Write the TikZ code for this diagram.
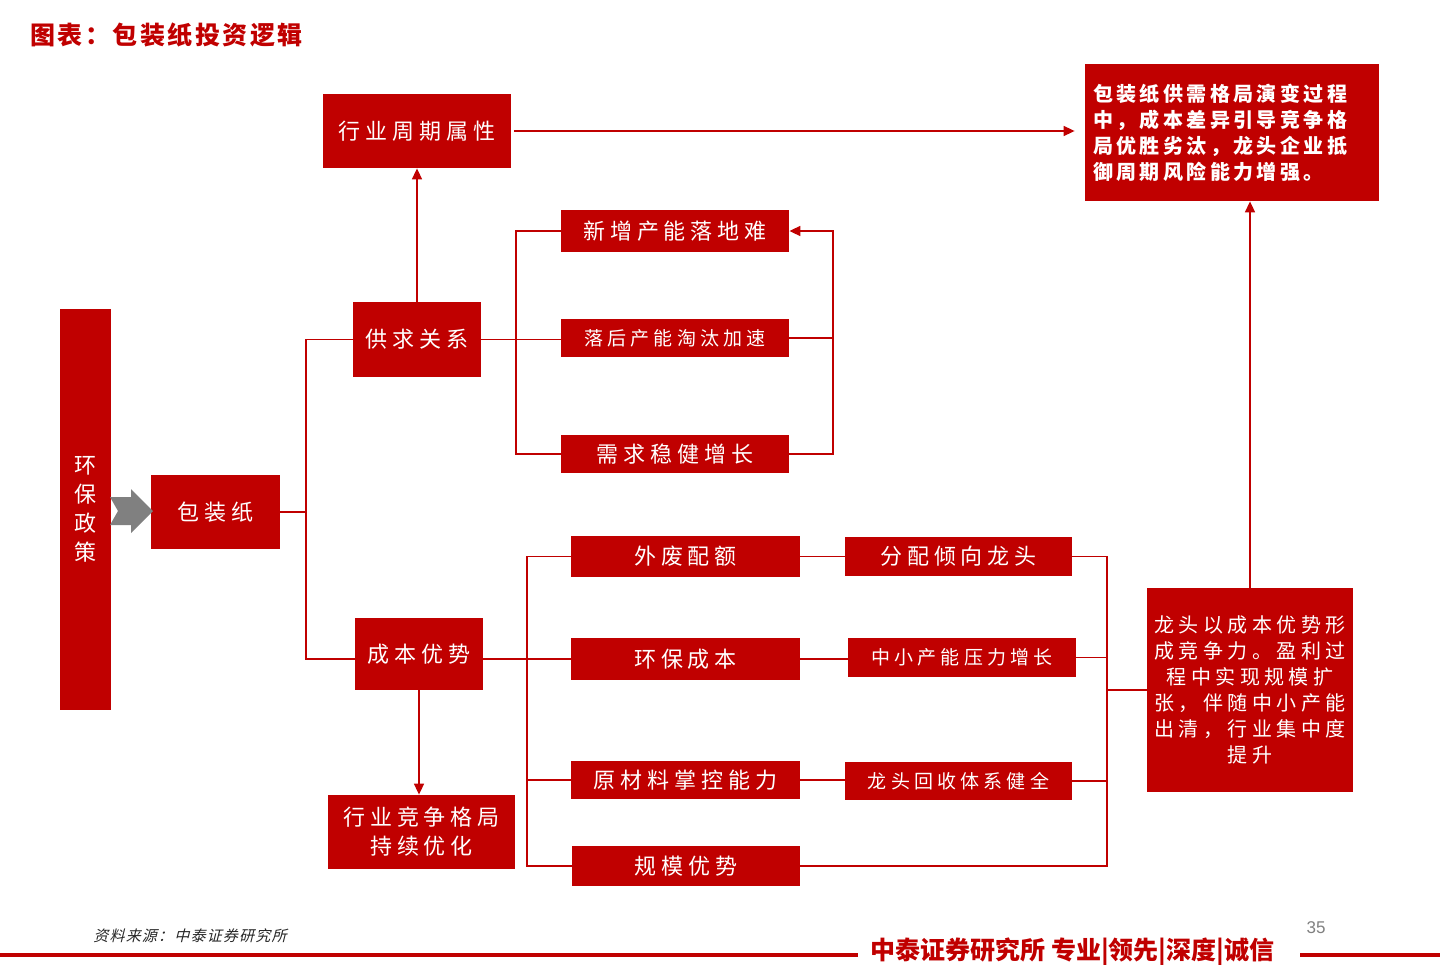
\documentclass[tikz,border=0pt]{standalone}
\usepackage{fontspec}
\setmainfont{Noto Sans CJK SC}
\newfontfamily\boxfont[LetterSpace=22]{Noto Sans CJK SC}
\newfontfamily\tightfont[LetterSpace=17]{Noto Sans CJK SC}
\newfontfamily\titlefont[LetterSpace=10]{Noto Sans CJK SC}
\newfontfamily\slantfont[FakeSlant=0.25,LetterSpace=8]{Noto Sans CJK SC}
\newfontfamily\numfont{Liberation Sans}
\usetikzlibrary{arrows.meta}
\definecolor{myred}{HTML}{C00000}
\definecolor{mygray}{HTML}{808080}
\tikzset{
  box/.style={fill=myred, text=white, inner sep=0pt, align=center,
    font=\boxfont\fontsize{11pt}{14.5pt}\selectfont},
  sbox/.style={box, font=\boxfont\fontsize{9.5pt}{12pt}\selectfont},
  conn/.style={draw=myred, line width=0.8pt},
  arr/.style={conn, -{Triangle[length=5.5pt,width=5pt]}},
}
\begin{document}
\begin{tikzpicture}[x=0.5pt,y=-0.5pt]
\useasboundingbox (0,0) rectangle (1440,964);
% title
\node[anchor=west, text=myred, inner sep=0pt, font=\titlefont\bfseries\fontsize{12.5pt}{14pt}\selectfont] (title) at (30,35) {图表：包装纸投资逻辑};
% boxes
\node[box, minimum width=25.5pt, minimum height=200.5pt] (env) at (85.5,509.5) {环\\保\\政\\策};
\node[box, minimum width=64.5pt, minimum height=37pt] (pkg) at (215.5,512) {包装纸};
\node[box, minimum width=64pt, minimum height=37.5pt] (sd) at (417,339.5) {供求关系};
\node[box, minimum width=94pt, minimum height=37pt] (cyc) at (417,131) {行业周期属性};
\node[box, minimum width=147pt, minimum height=68.5pt, align=left, text width=139pt,
  font=\tightfont\bfseries\fontsize{10pt}{13pt}\selectfont] (sum) at (1232,132.5)
  {包装纸供需格局演变过程\\中，成本差异引导竞争格\\局优胜劣汰，龙头企业抵\\御周期风险能力增强。};
\node[box, minimum width=114pt, minimum height=21pt] (n1) at (675,231) {新增产能落地难};
\node[sbox, minimum width=114pt, minimum height=19pt] (n2) at (675,338) {落后产能淘汰加速};
\node[box, minimum width=114pt, minimum height=19pt] (n3) at (675,454) {需求稳健增长};
\node[box, minimum width=64pt, minimum height=36pt] (cost) at (419,654) {成本优势};
\node[box, minimum width=93.5pt, minimum height=37pt] (comp) at (421.5,832) {行业竞争格局\\持续优化};
\node[box, minimum width=114.5pt, minimum height=20.5pt] (c1) at (685.5,556.5) {外废配额};
\node[box, minimum width=114.5pt, minimum height=21pt] (c2) at (685.5,659) {环保成本};
\node[box, minimum width=114.5pt, minimum height=19pt] (c3) at (685.5,780) {原材料掌控能力};
\node[box, minimum width=114pt, minimum height=20pt] (c4) at (686,866) {规模优势};
\node[box, minimum width=113.5pt, minimum height=19.5pt] (d1) at (958.5,556.5) {分配倾向龙头};
\node[sbox, minimum width=114pt, minimum height=19.5pt] (d2) at (962,657.5) {中小产能压力增长};
\node[sbox, minimum width=113.5pt, minimum height=19pt] (d3) at (958.5,781) {龙头回收体系健全};
\node[box, minimum width=103pt, minimum height=102pt,
  font=\boxfont\fontsize{10pt}{13pt}\selectfont] (lead) at (1250,690)
  {龙头以成本优势形\\成竞争力。盈利过\\程中实现规模扩\\张，伴随中小产能\\出清，行业集中度\\提升};
% gray block arrow
\fill[mygray] (110,497) -- (131,497) -- (131,489) -- (153,511) -- (131,533) -- (131,525) -- (110,525) -- (118,511) -- cycle;
% connectors
\coordinate (t1) at (306,659);
\draw[conn] (pkg.east) -- (pkg.east -| t1);
\draw[conn] (sd.west) -| (t1) -- (t1 -| cost.west);
\draw[arr] (sd.north) -- (cyc.south);
\draw[arr, shorten <=1.5pt, shorten >=5pt] (cyc.east) -- (cyc.east -| sum.west);
\coordinate (lt) at (516,0);
\draw[conn] (n1.west) -- (n1.west -| lt) |- (n3.west);
\draw[conn] (sd.east) -- (sd.east -| n2.west);
\coordinate (rb) at (833,0);
\draw[conn] (n2.east) -- (n2.east -| rb);
\draw[arr] (n3.east) -- (n3.east -| rb) |- (n1.east);
\draw[arr] (cost.south) -- (cost.south |- comp.north);
\coordinate (ct) at (527,0);
\draw[conn] (c1.west) -- (c1.west -| ct) |- (c4.west);
\draw[conn] (c3.west) -- (c3.west -| ct);
\draw[conn] (cost.east |- c2.west) -- (c2.west);
\draw[conn] (c1.east) -- (d1.west);
\draw[conn] (c2.east) -- (c2.east -| d2.west);
\draw[conn] (c3.east) -- (c3.east -| d3.west);
\coordinate (rt) at (1107,0);
\draw[conn] (d1.east) -- (d1.east -| rt) |- (c4.east);
\draw[conn] (d2.east) -- (d2.east -| rt);
\draw[conn] (d3.east) -- (d3.east -| rt);
\draw[conn] (rt |- lead.west) -- (lead.west);
\draw[arr] (lead.north) -- (lead.north |- sum.south);
% footer
\node[anchor=west, inner sep=0pt, text=black!85, font=\slantfont\fontsize{7.5pt}{8pt}\selectfont] (src) at (93,936) {资料来源：中泰证券研究所};
\fill[myred] (0,953) rectangle (858,957);
\fill[myred] (1300,953) rectangle (1440,957);
\node[anchor=west, inner sep=0pt, text=myred, font=\bfseries\fontsize{12.5pt}{14pt}\selectfont] (brand) at (870,952) {中泰证券研究所 专业|领先|深度|诚信};
\node[inner sep=0pt, text=mygray, font=\numfont\fontsize{8.5pt}{10pt}\selectfont] (pg) at (1316,928) {35};
\end{tikzpicture}
\end{document}
